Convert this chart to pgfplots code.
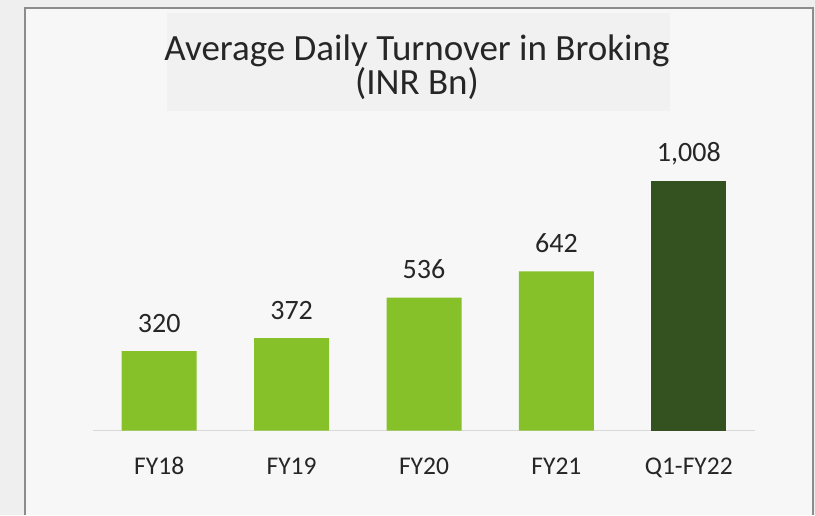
\documentclass[border=0pt]{standalone}
\usepackage{pgfplots}
\pgfplotsset{compat=1.18}
\usepackage{fontspec}
\setmainfont{Carlito}
\definecolor{outerbg}{HTML}{EFEFF0}
\definecolor{innerbg}{HTML}{F7F7F8}
\definecolor{titlebg}{HTML}{F1F1F1}
\definecolor{framec}{HTML}{8C8C8C}
\definecolor{lightgreen}{HTML}{86C129}
\definecolor{darkgreen}{HTML}{34521F}
\definecolor{txt}{HTML}{262626}
\definecolor{baselinec}{HTML}{D9D9D9}
\begin{document}
\begin{tikzpicture}[x=1pt,y=1pt]
\path[use as bounding box] (0,0) rectangle (815,515);
\fill[outerbg] (0,0) rectangle (815,515);
\fill[innerbg] (25,0) rectangle (812.7,507);
\draw[framec, line width=1.6pt] (25,0) -- (25,507) -- (812.7,507) -- (812.7,0);
\fill[titlebg] (167,404) rectangle (670,502);
\node[anchor=base, text=txt, align=center, inner sep=0pt, font=\fontsize{37}{32}\selectfont] at (417,420) {Average Daily Turnover in Broking\\(INR Bn)};
\begin{axis}[
  at={(93pt,84.5pt)}, anchor=south west,
  scale only axis, width=662pt, height=300pt,
  xmin=-0.5, xmax=4.5, ymin=0, ymax=1209.7,
  ybar, bar width=75pt, bar shift=0pt,
  axis y line=none, axis x line*=bottom,
  x axis line style={draw=baselinec, line width=1.5pt, -},
  xtick={0,1,2,3,4},
  xticklabels={FY18,FY19,FY20,FY21,Q1-FY22},
  major tick length=0pt,
  x tick label style={anchor=base, yshift=-43.5pt, font=\fontsize{25.5}{30}\selectfont, text=txt},
  /pgf/number format/assume math mode=true,
  nodes near coords,
  every node near coord/.append style={anchor=base, yshift=19pt, font=\fontsize{28}{32}\selectfont, text=txt},
  clip=false,
]
\addplot[fill=lightgreen, draw=none] coordinates {(0,320) (1,372) (2,536) (3,642)};
\addplot[fill=darkgreen, draw=none] coordinates {(4,1008)};
\end{axis}
\end{tikzpicture}
\end{document}
